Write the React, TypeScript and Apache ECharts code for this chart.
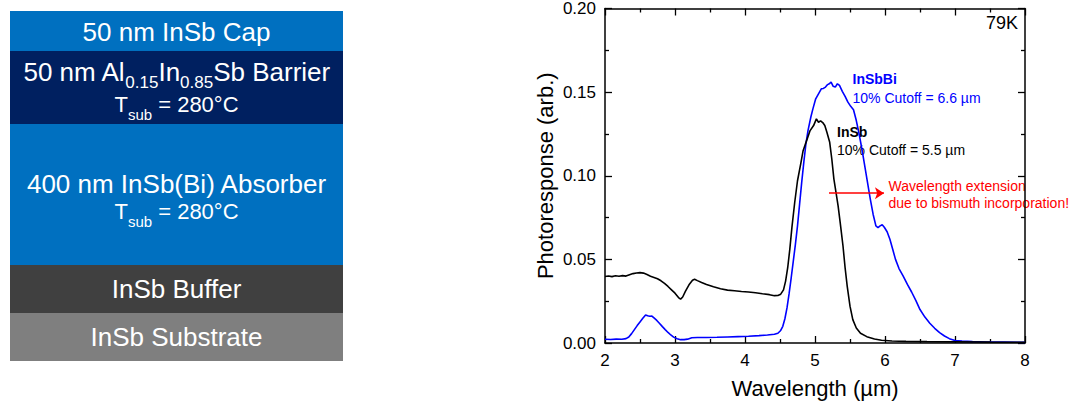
import React, { useEffect, useRef } from "react";
import * as echarts from "echarts";

// ---------- data ----------
const insbWavelength = [
  2.0, 2.05, 2.1, 2.15, 2.2, 2.25, 2.3, 2.35, 2.4, 2.45, 2.5, 2.55, 2.6, 2.65, 2.7, 2.75, 2.8, 2.85, 2.9, 2.95,
  3.0, 3.05, 3.08, 3.11, 3.15, 3.2, 3.25, 3.28, 3.32, 3.38, 3.45, 3.55, 3.65, 3.75, 3.85, 3.95, 4.05, 4.15, 4.25,
  4.35, 4.42, 4.47, 4.51, 4.55, 4.58, 4.61, 4.64, 4.67, 4.71, 4.75, 4.8, 4.83, 4.88, 4.93, 4.98, 5.02, 5.05, 5.08,
  5.11, 5.14, 5.17, 5.21, 5.24, 5.27, 5.3, 5.33, 5.36, 5.4, 5.43, 5.46, 5.5, 5.54, 5.59, 5.65, 5.74, 5.85, 5.95,
  6.1, 6.3, 6.6, 7.0, 7.5, 8.0,
];
const insbResponse = [
  0.0398, 0.0401, 0.0397, 0.0402, 0.0399, 0.0403, 0.04, 0.0408, 0.0415, 0.0419, 0.0421, 0.0418, 0.0409, 0.0399,
  0.0392, 0.0384, 0.0372, 0.0356, 0.0338, 0.0318, 0.0298, 0.0272, 0.0262, 0.0275, 0.031, 0.0348, 0.0375, 0.0381,
  0.0373, 0.0362, 0.035, 0.0336, 0.0324, 0.0316, 0.0312, 0.0308, 0.0305, 0.03, 0.0294, 0.0289, 0.0283, 0.0284,
  0.0292, 0.0318, 0.037, 0.045, 0.056, 0.069, 0.084, 0.097, 0.108, 0.115, 0.121, 0.127, 0.13, 0.134, 0.132, 0.1328,
  0.1318, 0.13, 0.126, 0.12, 0.11, 0.098, 0.09, 0.082, 0.072, 0.058, 0.045, 0.034, 0.022, 0.014, 0.009, 0.0058,
  0.0038, 0.0024, 0.0016, 0.0012, 0.001, 0.0008, 0.0007, 0.0005, 0.0004,
];

const insbbiWavelength = [
  2.0, 2.08, 2.16, 2.24, 2.3, 2.34, 2.38, 2.42, 2.46, 2.5, 2.54, 2.58, 2.61, 2.64, 2.67, 2.7, 2.74, 2.78, 2.82,
  2.86, 2.9, 2.94, 2.98, 3.03, 3.08, 3.13, 3.18, 3.24, 3.32, 3.45, 3.6, 3.75, 3.9, 4.05, 4.2, 4.32, 4.42, 4.47,
  4.51, 4.54, 4.57, 4.6, 4.63, 4.66, 4.69, 4.72, 4.75, 4.78, 4.81, 4.84, 4.87, 4.9, 4.94, 4.97, 5.01, 5.05, 5.09,
  5.12, 5.15, 5.18, 5.21, 5.23, 5.26, 5.29, 5.32, 5.35, 5.39, 5.43, 5.47, 5.51, 5.55, 5.59, 5.63, 5.67, 5.71,
  5.75, 5.79, 5.83, 5.87, 5.9, 5.93, 5.96, 5.99, 6.03, 6.07, 6.11, 6.15, 6.2, 6.26, 6.32, 6.38, 6.44, 6.5, 6.57,
  6.64, 6.71, 6.78, 6.85, 6.92, 7.0, 7.1, 7.25, 7.45, 7.7, 8.0,
];
const insbbiResponse = [
  0.0022, 0.0021, 0.0023, 0.0022, 0.0026, 0.0036, 0.0056, 0.008, 0.0104, 0.0126, 0.0148, 0.0168, 0.0163, 0.016,
  0.0161, 0.015, 0.0135, 0.0117, 0.0098, 0.008, 0.0063, 0.0048, 0.0035, 0.0025, 0.002, 0.002, 0.0023, 0.0031,
  0.0033, 0.0033, 0.0034, 0.0036, 0.0038, 0.004, 0.0044, 0.0048, 0.0052, 0.0058, 0.0075, 0.01, 0.0145, 0.021,
  0.0295, 0.039, 0.049, 0.059, 0.07, 0.083, 0.096, 0.108, 0.119, 0.127, 0.135, 0.14, 0.146, 0.149, 0.152, 0.1522,
  0.153, 0.1545, 0.1552, 0.156, 0.1535, 0.153, 0.155, 0.154, 0.1505, 0.1475, 0.144, 0.1415, 0.1395, 0.133, 0.125,
  0.116, 0.106, 0.096, 0.086, 0.077, 0.07, 0.069, 0.07, 0.0707, 0.0692, 0.0665, 0.062, 0.056, 0.05, 0.0445, 0.04,
  0.035, 0.0305, 0.0255, 0.02, 0.0155, 0.0118, 0.0088, 0.0062, 0.0042, 0.0026, 0.0015, 0.0011, 0.0008, 0.0006,
  0.0005, 0.0004,
];

const xMin = 2;
const xMax = 8;
const xStep = 1;
const yMin = 0;
const yMax = 0.2;
const yStep = 0.05;

// annotation arrow (data coordinates)
const arrowStart = [5.2, 0.0896];
const arrowEnd = [5.985, 0.0896];

// layer stack
const layerTitles = [
  "50 nm InSb Cap",
  "{m|50 nm Al}{s|0.15}{m|In}{s|0.85}{m|Sb Barrier}",
  "400 nm InSb(Bi) Absorber",
  "InSb Buffer",
  "InSb Substrate",
];
const layerSubtitles = ["", "{t|T}{u|sub}{t| = 280°C}", "{t|T}{u|sub}{t| = 280°C}", "", ""];
const layerColors = ["#0070C0", "#002060", "#0070C0", "#404040", "#7F7F7F"];

const FONT = '"Liberation Sans", Arial, Helvetica, sans-serif';

export default function App() {
  const ref = useRef<HTMLDivElement>(null);

  useEffect(() => {
    if (!ref.current) return;
    const chart = echarts.init(ref.current, null, { renderer: "svg" });

    // ---- layer diagram ----
    const boxLeft = 10;
    const boxWidth = 333;
    const bounds = [11, 51, 124, 265, 313, 361];
    const titleY = [31.5, 72, 183.5, 289, 337];
    const subY = [0, 104, 211.5, 0, 0];
    const cx = boxLeft + boxWidth / 2;

    const richMain = {
      m: { fontSize: 26, fontFamily: FONT, fill: "#fff", lineHeight: 28 },
      s: { fontSize: 17, fontFamily: FONT, fill: "#fff", padding: [20, 0, 0, 0], lineHeight: 18 },
    };
    const richSub = {
      t: { fontSize: 22, fontFamily: FONT, fill: "#fff", lineHeight: 24 },
      u: { fontSize: 15, fontFamily: FONT, fill: "#fff", padding: [20, 0, 0, 0], lineHeight: 16 },
    };

    const diagram: any[] = [];
    layerTitles.forEach((title, i) => {
      diagram.push({
        type: "rect",
        shape: { x: boxLeft, y: bounds[i], width: boxWidth, height: bounds[i + 1] - bounds[i] },
        style: { fill: layerColors[i] },
        silent: true,
      });
    });
    layerTitles.forEach((title, i) => {
      const isRich = title.indexOf("{") === 0;
      diagram.push({
        type: "text",
        x: cx,
        y: titleY[i],
        silent: true,
        style: isRich
          ? { text: title, rich: richMain, textAlign: "center", textVerticalAlign: "middle", fill: "#fff", fontSize: 26, fontFamily: FONT }
          : { text: title, fill: "#fff", fontSize: 26, fontFamily: FONT, textAlign: "center", textVerticalAlign: "middle" },
      });
      if (layerSubtitles[i]) {
        diagram.push({
          type: "text",
          x: cx,
          y: subY[i],
          silent: true,
          style: { text: layerSubtitles[i], rich: richSub, textAlign: "center", textVerticalAlign: "middle", fill: "#fff", fontSize: 22, fontFamily: FONT },
        });
      }
    });

    // ---- annotations ----
    const note = (text: string, x: number, y: number, color: string, bold = false, size = 14, align = "left") => ({
      type: "text",
      x,
      y,
      silent: true,
      style: {
        text,
        fill: color,
        fontSize: size,
        fontWeight: bold ? "bold" : "normal",
        fontFamily: FONT,
        textAlign: align,
        textVerticalAlign: "middle",
      },
    });
    const annotations = [
      note("79K", 1018, 23, "#000", false, 18, "right"),
      note("InSbBi", 852.5, 79, "#0000FF", true),
      note("10% Cutoff = 6.6 µm", 852.5, 97.5, "#0000FF"),
      note("InSb", 837, 132, "#000", true),
      note("10% Cutoff = 5.5 µm", 837, 150, "#000"),
      note("Wavelength extension", 888.5, 185.5, "#FF0000"),
      note("due to bismuth incorporation!", 888.5, 202.5, "#FF0000"),
    ];

    const axisLine = { show: true, onZero: false, lineStyle: { color: "#000", width: 1.5 } };
    const tick = { show: true, inside: true, length: 7, lineStyle: { color: "#000", width: 1.3 } };
    const minor = { show: true, splitNumber: 2, length: 4, lineStyle: { color: "#000", width: 1.3 } };
    const labelStyle = { color: "#000", fontSize: 17, fontFamily: FONT };

    const option: any = {
      animation: false,
      backgroundColor: "#fff",
      grid: { left: 605, top: 5, width: 420, height: 338, containLabel: false },
      xAxis: [
        {
          type: "value",
          min: xMin,
          max: xMax,
          interval: xStep,
          position: "bottom",
          axisLine,
          axisTick: tick,
          minorTick: minor,
          splitLine: { show: false },
          minorSplitLine: { show: false },
          axisLabel: { ...labelStyle, margin: 9 },
          name: "Wavelength (µm)",
          nameLocation: "middle",
          nameGap: 34,
          nameTextStyle: { color: "#000", fontSize: 22, fontFamily: FONT },
        },
        {
          type: "value",
          min: xMin,
          max: xMax,
          interval: xStep,
          position: "top",
          axisLine,
          axisTick: tick,
          minorTick: minor,
          splitLine: { show: false },
          axisLabel: { show: false },
        },
      ],
      yAxis: [
        {
          type: "value",
          min: yMin,
          max: yMax,
          interval: yStep,
          position: "left",
          axisLine,
          axisTick: tick,
          minorTick: minor,
          splitLine: { show: false },
          minorSplitLine: { show: false },
          axisLabel: { ...labelStyle, margin: 9, formatter: (v: number) => v.toFixed(2) },
          name: "Photoresponse (arb.)",
          nameLocation: "middle",
          nameGap: 49,
          nameTextStyle: { color: "#000", fontSize: 22, fontFamily: FONT },
        },
        {
          type: "value",
          min: yMin,
          max: yMax,
          interval: yStep,
          position: "right",
          axisLine,
          axisTick: tick,
          minorTick: minor,
          splitLine: { show: false },
          axisLabel: { show: false },
        },
      ],
      series: [
        {
          name: "InSb",
          type: "line",
          xAxisIndex: 0,
          yAxisIndex: 0,
          showSymbol: false,
          symbol: "none",
          smooth: false,
          lineStyle: { color: "#000", width: 1.6 },
          itemStyle: { color: "#000" },
          data: insbWavelength.map((w, i) => [w, insbResponse[i]]),
          z: 3,
        },
        {
          name: "InSbBi",
          type: "line",
          xAxisIndex: 0,
          yAxisIndex: 0,
          showSymbol: false,
          symbol: "none",
          smooth: false,
          lineStyle: { color: "#0000FF", width: 1.6 },
          itemStyle: { color: "#0000FF" },
          data: insbbiWavelength.map((w, i) => [w, insbbiResponse[i]]),
          z: 2,
          markLine: {
            silent: true,
            symbol: ["none", "arrow"],
            symbolSize: 9,
            label: { show: false },
            lineStyle: { color: "#FF0000", width: 1.5, type: "solid" },
            itemStyle: { color: "#FF0000" },
            data: [[{ coord: arrowStart }, { coord: arrowEnd }]],
          },
        },
      ],
      graphic: { elements: [...diagram, ...annotations] },
    };

    chart.setOption(option);
    return () => chart.dispose();
  }, []);

  return (
    <div
      ref={ref}
      style={{ position: "fixed", left: 0, top: 0, width: 1077, height: 404, background: "#fff" }}
    />
  );
}
